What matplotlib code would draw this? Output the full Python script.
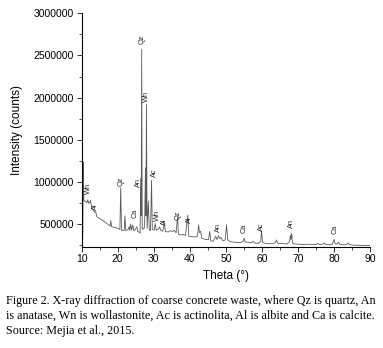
import matplotlib
matplotlib.use("Agg")
import matplotlib.pyplot as plt
from matplotlib.ticker import MultipleLocator

# XRD pattern (theta in degrees, intensity in counts)
theta = [10.20, 10.32, 10.45, 10.58, 10.9, 11.4, 11.7, 11.9, 12.2, 12.45,
         12.8, 13.2, 13.7, 13.9, 14.2, 15.1, 16.0, 16.9, 17.6, 17.9,
         18.05, 18.3, 19.25, 20.2, 20.6, 20.82, 21.05, 21.8, 22.0, 22.25,
         22.9, 23.15, 23.35, 23.6, 23.85, 24.2, 24.45, 24.8, 25.3, 25.55,
         25.9, 26.2, 26.4, 26.52, 26.65, 26.8, 27.2, 27.45, 27.7, 27.83,
         27.97, 28.15, 28.5, 28.75, 29.1, 29.38, 29.6, 30.1, 30.4, 30.7,
         31.2, 31.6, 32.0, 32.5, 33.0, 33.2, 34.0, 34.7, 35.2, 35.7,
         36.2, 36.6, 36.85, 37.5, 38.2, 38.8, 39.45, 39.7, 40.5, 41.5,
         42.1, 42.45, 42.7, 43.0, 43.3, 44.5, 45.2, 45.55, 45.8, 46.5,
         47.2, 47.5, 48.0, 48.3, 48.6, 49.2, 49.8, 50.2, 50.5, 51.0,
         52.0, 53.0, 54.0, 54.8, 55.1, 55.4, 56.0, 57.0, 57.6, 58.0,
         59.0, 59.7, 59.9, 60.2, 61.0, 62.0, 63.0, 63.8, 64.05, 64.4,
         65.0, 66.0, 67.0, 67.7, 67.9, 68.05, 68.25, 68.5, 69.0, 70.0,
         71.0, 72.0, 73.0, 74.0, 75.0, 75.6, 75.9, 76.5, 77.4, 77.8,
         78.5, 79.5, 80.05, 80.3, 80.8, 81.3, 81.6, 82.5, 83.5, 84.0,
         84.3, 85.0, 86.0, 87.0, 88.0, 89.0, 90.0]
counts = [250000, 420000, 1240000, 790000, 775000, 757000, 790000, 748000, 760000, 785000,
          690000, 665000, 640000, 650000, 590000, 567000, 543000, 512000, 490000, 480000,
          545000, 472000, 464000, 449000, 441000, 934000, 428000, 430000, 600000, 425000,
          440000, 472000, 430000, 505000, 430000, 492000, 425000, 435000, 472000, 415000,
          410000, 395000, 1045000, 600000, 2570000, 440000, 450000, 470000, 1170000, 600000,
          1920000, 455000, 776000, 435000, 425000, 1020000, 440000, 430000, 510000, 430000,
          440000, 470000, 425000, 420000, 520000, 415000, 410000, 425000, 415000, 430000,
          400000, 585000, 380000, 375000, 380000, 370000, 610000, 360000, 355000, 350000,
          360000, 495000, 400000, 420000, 335000, 320000, 320000, 415000, 305000, 300000,
          360000, 320000, 365000, 330000, 345000, 305000, 315000, 495000, 320000, 300000,
          290000, 285000, 285000, 300000, 335000, 290000, 290000, 280000, 300000, 278000,
          275000, 300000, 425000, 285000, 275000, 272000, 270000, 290000, 315000, 275000,
          275000, 270000, 268000, 300000, 370000, 320000, 395000, 280000, 268000, 265000,
          262000, 262000, 265000, 260000, 262000, 275000, 262000, 262000, 278000, 260000,
          258000, 262000, 322000, 270000, 265000, 290000, 262000, 258000, 260000, 280000,
          258000, 255000, 252000, 252000, 250000, 250000, 248000]

# phase labels: text, theta, counts (bottom of the rotated label)
phase_names = ["Qz", "Wn", "Wn", "Al", "Qz", "Ca", "An", "Ac", "Wn", "Al",
               "Qz", "Al", "An", "Ca", "Ac", "An", "Ca"]
phase_theta = [26.65, 28.0, 11.95, 13.8, 20.9, 24.8, 25.7, 30.1, 31.1, 33.1,
               36.85, 39.8, 48.0, 55.2, 59.8, 68.1, 80.4]
phase_counts = [2640000, 1950000, 860000, 665000, 960000, 575000, 945000, 1060000, 535000, 487000,
                550000, 520000, 415000, 395000, 425000, 460000, 385000]

plt.rcParams["font.family"] = ["Liberation Sans", "DejaVu Sans"]

fig = plt.figure(figsize=(3.83, 3.48), dpi=100)
ax = fig.add_axes([0.2133, 0.291, 0.7527, 0.671])

ax.plot(theta, counts, color="#5a5a5a", linewidth=0.6)

for name, t, c in zip(phase_names, phase_theta, phase_counts):
    ax.text(t, c, name, rotation=90, fontsize=5.3, ha="center", va="bottom", color="#222222")

ax.set_xlim(10, 90)
ax.set_ylim(235000, 3000000)
ax.xaxis.set_major_locator(MultipleLocator(10))
ax.xaxis.set_minor_locator(MultipleLocator(5))
ax.yaxis.set_major_locator(MultipleLocator(500000))
ax.yaxis.set_minor_locator(MultipleLocator(250000))
ax.ticklabel_format(axis="y", style="plain")

for s in ["top", "right"]:
    ax.spines[s].set_visible(False)
for s in ["left", "bottom"]:
    ax.spines[s].set_linewidth(0.8)
ax.tick_params(which="major", length=3.5, width=0.7, labelsize=7.5, pad=2, color="#333333")
ax.tick_params(which="minor", length=2, width=0.6, color="#333333")

ax.set_xlabel("Theta (°)", fontsize=8.5, labelpad=4)
ax.set_ylabel("Intensity (counts)", fontsize=8.5, labelpad=8)

caption = ("Figure 2. X-ray diffraction of coarse concrete waste, where Qz is quartz, An\n"
           "is anatase, Wn is wollastonite, Ac is actinolita, Al is albite and Ca is calcite.\n"
           "Source: Mejia et al., 2015.")
fig.text(6 / 383, 1 - 295 / 348, caption, family="Liberation Serif", fontsize=8.7,
         va="top", ha="left", linespacing=1.32)

fig.savefig("out.png", dpi=100)
